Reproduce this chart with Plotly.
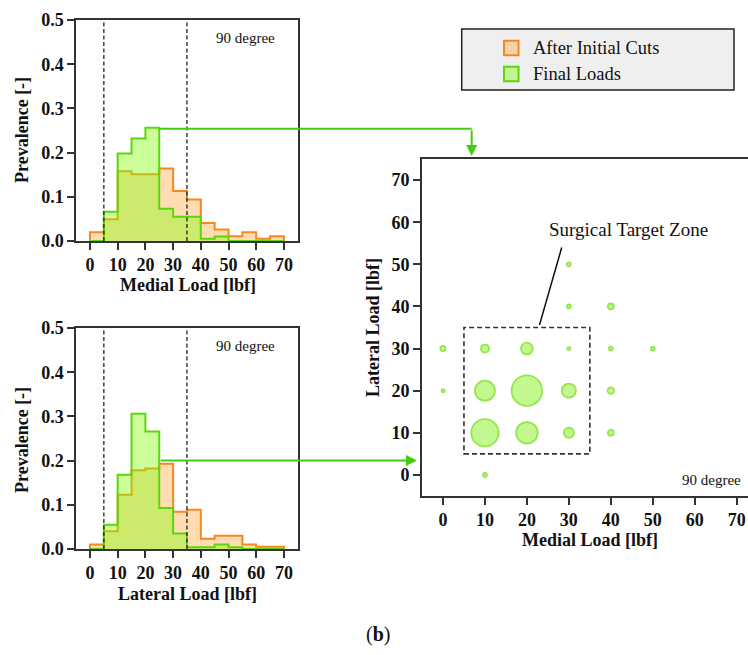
import numpy as np
import plotly.graph_objects as go

# ---------------- data ----------------
bin_edges = list(range(0, 75, 5))  # 0..70

medial_initial = [0.020, 0.049, 0.158, 0.151, 0.151, 0.164, 0.113, 0.094, 0.041, 0.026, 0.011, 0.020, 0.005, 0.011]
medial_final   = [0.000, 0.066, 0.198, 0.232, 0.256, 0.073, 0.055, 0.055, 0.005, 0.010, 0.000, 0.000, 0.000, 0.000]
lateral_initial = [0.010, 0.040, 0.123, 0.178, 0.182, 0.193, 0.084, 0.089, 0.023, 0.030, 0.030, 0.010, 0.005, 0.005]
lateral_final   = [0.000, 0.055, 0.168, 0.306, 0.266, 0.093, 0.035, 0.004, 0.004, 0.010, 0.004, 0.000, 0.000, 0.000]

bubble_medial  = [0, 0, 10, 20, 30, 40, 50, 10, 20, 30, 40, 10, 20, 30, 40, 10, 30, 40, 30]
bubble_lateral = [30, 20, 30, 30, 30, 30, 30, 20, 20, 20, 20, 10, 10, 10, 10, 0, 40, 40, 50]
bubble_count   = [3, 1, 7, 15, 1, 1.6, 1.6, 43, 100, 21, 4.5, 80, 50, 11, 3.7, 1.6, 1.6, 3.7, 1.6]

hist_ticks = [0, 10, 20, 30, 40, 50, 60, 70]
prev_ticks = [0.0, 0.1, 0.2, 0.3, 0.4, 0.5]
scatter_ticks = [0, 10, 20, 30, 40, 50, 60, 70]
target_zone = [5, 35]        # surgical target zone (both axes)
arrow_levels = [0.254, 0.2]  # prevalence level where the green arrows leave the histograms

legend_labels = ["After Initial Cuts", "Final Loads"]

# ---------------- style ----------------
W, H = 748, 655
FONT = "Liberation Serif"
AX = "#333333"
ORANGE = "#f5891f"
ORANGE_FILL = "rgba(255,140,0,0.30)"
GREEN = "#5cd60c"
GREEN_FILL = "rgba(127,255,0,0.40)"
BUB_FILL = "rgba(120,240,0,0.62)"
BUB_LINE = "#66dd00"
ARROW = "#44cc11"


def px(x):
    return x / W


def py(y):
    return 1 - y / H


# axis geometry (pixels)
H1 = dict(xd=(76.15, 297.75), yd=(241, 20), xr=(-5, 75), yr=(0, 0.5))
H2 = dict(xd=(76.15, 297.75), yd=(549, 328), xr=(-5, 75), yr=(0, 0.5))
SC = dict(xd=(422.0, 748.0), yd=(496.0, 159.0), xr=(-5, 72.69), yr=(-5, 75))


def to_px(g, x=None, y=None):
    out = []
    if x is not None:
        out.append(g["xd"][0] + (x - g["xr"][0]) / (g["xr"][1] - g["xr"][0]) * (g["xd"][1] - g["xd"][0]))
    if y is not None:
        out.append(g["yd"][0] + (y - g["yr"][0]) / (g["yr"][1] - g["yr"][0]) * (g["yd"][1] - g["yd"][0]))
    return out


def step_xy(edges, vals):
    xs, ys = [edges[0]], [0]
    for i, v in enumerate(vals):
        xs += [edges[i], edges[i + 1]]
        ys += [v, v]
    xs.append(edges[-1])
    ys.append(0)
    return xs, ys


fig = go.Figure()

for (ini, fin, xa, ya) in [(medial_initial, medial_final, "x", "y"),
                            (lateral_initial, lateral_final, "x2", "y2")]:
    xs, ys = step_xy(bin_edges, ini)
    fig.add_trace(go.Scatter(x=xs, y=ys, mode="lines", fill="tozeroy", fillcolor=ORANGE_FILL,
                             line=dict(color=ORANGE, width=2), xaxis=xa, yaxis=ya,
                             showlegend=False, hoverinfo="skip"))
    xs, ys = step_xy(bin_edges, fin)
    fig.add_trace(go.Scatter(x=xs, y=ys, mode="lines", fill="tozeroy", fillcolor=GREEN_FILL,
                             line=dict(color=GREEN, width=2), xaxis=xa, yaxis=ya,
                             showlegend=False, hoverinfo="skip"))

# radius = sqrt(v / (2*sizeref)) in plotly's area mode
sizeref = 2 * 100 / 30.5 ** 2
fig.add_trace(go.Scatter(x=bubble_medial, y=bubble_lateral, mode="markers",
                         marker=dict(size=bubble_count, sizemode="area", sizeref=sizeref,
                                     color=BUB_FILL, line=dict(color=BUB_LINE, width=1.8)),
                         xaxis="x3", yaxis="y3", showlegend=False, cliponaxis=False))

tickfont = dict(family=FONT, size=18, color="#111", weight="bold")


def axis_common(g, is_x, ticks, fmt=None, mirror=True):
    d = g["xd"] if is_x else g["yd"]
    if is_x:
        dom = [px(d[0]), px(d[1])]
    else:
        dom = [py(d[0]), py(d[1])]
    a = dict(domain=dom, range=list(g["xr"] if is_x else g["yr"]), tickmode="array", tickvals=ticks,
             ticks="outside", ticklen=7, tickwidth=1.5, tickcolor=AX, showline=True, linecolor=AX,
             linewidth=1.6, mirror=mirror, showgrid=False, zeroline=False, tickfont=tickfont,
             fixedrange=True, automargin=False)
    if fmt:
        a["tickformat"] = fmt
    return a


fig.update_layout(
    template="none",
    width=W, height=H, margin=dict(l=0, r=0, t=0, b=0, pad=0, autoexpand=False), autosize=False,
    paper_bgcolor="white", plot_bgcolor="white",
    xaxis=dict(**axis_common(H1, True, hist_ticks), anchor="y"),
    yaxis=dict(**axis_common(H1, False, prev_ticks, ".1f"), anchor="x"),
    xaxis2=dict(**axis_common(H2, True, hist_ticks), anchor="y2"),
    yaxis2=dict(**axis_common(H2, False, prev_ticks, ".1f"), anchor="x2"),
    xaxis3=dict(**axis_common(SC, True, scatter_ticks), anchor="y3"),
    yaxis3=dict(**axis_common(SC, False, scatter_ticks, mirror=False), anchor="x3"),
)

shapes = []
annotations = []


def ann(**kw):
    kw.setdefault("showarrow", False)
    kw.setdefault("xanchor", "center")
    kw.setdefault("yanchor", "middle")
    annotations.append(kw)


# dashed target-zone lines in histograms
for xa, ya in [("x", "y"), ("x2", "y2")]:
    for v in target_zone:
        shapes.append(dict(type="line", xref=xa, yref=ya, x0=v, x1=v, y0=0, y1=0.5,
                           line=dict(color="#222", width=1.3, dash="4px,2.5px")))

# dashed zone in scatter
shapes.append(dict(type="rect", xref="x3", yref="y3", x0=target_zone[0], x1=target_zone[1],
                   y0=target_zone[0], y1=target_zone[1], line=dict(color="#333", width=1.6, dash="5px,3px")))
# leader line
shapes.append(dict(type="line", xref="x3", yref="y3", x0=23, y0=35.6, x1=28.3, y1=54,
                   line=dict(color="#111", width=1.5)))

# "90 degree" labels
small = dict(family=FONT, size=15, color="#111")
for xa, ya in [("x", "y"), ("x2", "y2")]:
    ann(text="90 degree", xref=xa, yref=ya, x=56.3, y=0.46, font=small)
ann(text="90 degree", xref="x3", yref="y3", x=71.6, y=-1.2, xanchor="right", font=small)
ann(text="Surgical Target Zone", xref="x3", yref="y3", x=44.3, y=58.2,
    font=dict(family=FONT, size=19, color="#111"))

# axis titles
title_font = dict(family=FONT, size=18, color="#111", weight="bold")
ann(text="Prevalence [-]", x=px(22), y=py(130), xref="paper", yref="paper", textangle=-90, font=title_font)
ann(text="Prevalence [-]", x=px(22), y=py(440), xref="paper", yref="paper", textangle=-90, font=title_font)
ann(text="Medial Load [lbf]", x=px(188), y=py(285), xref="paper", yref="paper", font=title_font)
ann(text="Lateral Load [lbf]", x=px(187), y=py(594), xref="paper", yref="paper", font=title_font)
ann(text="Lateral Load [lbf]", x=px(373), y=py(328), xref="paper", yref="paper", textangle=-90, font=title_font)
ann(text="Medial Load [lbf]", x=px(590), y=py(540), xref="paper", yref="paper", font=title_font)
ann(text="(<b>b</b>)", x=px(378), y=py(634), xref="paper", yref="paper",
    font=dict(family=FONT, size=20, color="#111"))

# green connector arrows
x_start, y_top = to_px(H1, 25, arrow_levels[0])
x_turn = to_px(SC, x=6.84)[0]
tip_top = SC["yd"][1] - 3
shapes.append(dict(type="line", xref="paper", yref="paper", x0=px(x_start), x1=px(x_turn),
                   y0=py(y_top), y1=py(y_top), line=dict(color=ARROW, width=2)))
annotations.append(dict(x=px(x_turn), y=py(tip_top), xref="paper", yref="paper", ax=0,
                        ay=-(tip_top - y_top), axref="pixel", ayref="pixel", showarrow=True,
                        arrowhead=2, arrowsize=1.1, arrowwidth=2, arrowcolor=ARROW, text=""))
x_start2, y_bot = to_px(H2, 25, arrow_levels[1])
tip_left = SC["xd"][0] - 5
annotations.append(dict(x=px(tip_left), y=py(y_bot), xref="paper", yref="paper",
                        ax=-(tip_left - x_start2), ay=0, axref="pixel", ayref="pixel", showarrow=True,
                        arrowhead=2, arrowsize=1.1, arrowwidth=2, arrowcolor=ARROW, text=""))

# manual legend
shapes.append(dict(type="rect", xref="paper", yref="paper", x0=px(461.7), x1=px(734), y0=py(90), y1=py(29),
                   fillcolor="#efefef", line=dict(color="#222", width=1.5)))
for (lab, yc, fc, lc) in [(legend_labels[0], 48, ORANGE_FILL, ORANGE), (legend_labels[1], 74, GREEN_FILL, GREEN)]:
    shapes.append(dict(type="rect", xref="paper", yref="paper", x0=px(504), x1=px(518.5),
                       y0=py(yc + 7.3), y1=py(yc - 7.3), fillcolor=fc, line=dict(color=lc, width=2)))
    ann(text=lab, x=px(530.5), y=py(yc), xref="paper", yref="paper", xanchor="left",
        font=dict(family=FONT, size=18.5, color="#111"))

fig.update_layout(shapes=shapes, annotations=annotations)
fig.write_html("out.html")
